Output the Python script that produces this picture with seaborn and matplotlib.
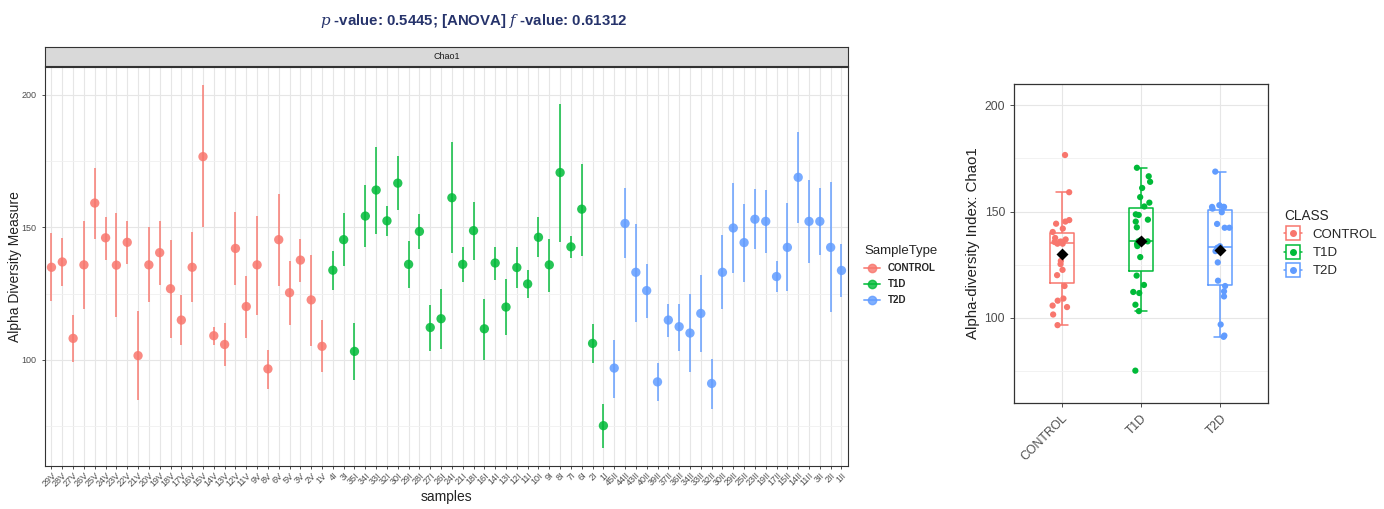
import numpy as np
import pandas as pd
import matplotlib.pyplot as plt
from matplotlib.lines import Line2D
import seaborn as sns

# sample ids as shown on the x axis (left panel order)
control_ids = ['29V', '28V', '27V', '26V', '25V', '24V', '23V', '22V', '21V', '20V', '19V', '18V', '17V',
               '16V', '15V', '14V', '13V', '12V', '11V', '9V', '8V', '6V', '5V', '3V', '2V', '1V']
t1d_ids = ['4I', '3I', '35I', '34I', '33I', '32I', '30I', '29I', '28I', '27I', '26I', '24I', '21I',
           '18I', '16I', '14I', '13I', '12I', '11I', '10I', '9I', '8I', '7I', '6I', '2I', '1I']
t2d_ids = ['45II', '44II', '43II', '40II', '39II', '37II', '36II', '34II', '33II', '32II', '30II',
           '29II', '25II', '23II', '19II', '17II', '15II', '14II', '11II', '3II', '2II', '1II']

# Chao1 estimate with lower / upper range
control_chao1 = [134.9, 136.9, 108.1, 135.8, 159.1, 146.0, 135.7, 144.3, 101.6, 135.8, 140.4, 126.8, 115.0,
                 134.9, 176.6, 109.1, 105.8, 142.0, 120.1, 135.8, 96.6, 145.3, 125.3, 137.6, 122.6, 105.1]
control_lo = [122.1, 127.7, 99.1, 119.3, 145.7, 137.6, 116.1, 136.0, 84.8, 121.7, 128.2, 108.1, 105.6,
              121.9, 150.1, 105.6, 97.6, 128.1, 108.4, 116.9, 89.2, 128.0, 113.0, 129.3, 105.3, 95.4]
control_hi = [147.8, 146.0, 116.9, 152.3, 172.4, 154.0, 155.3, 152.5, 118.6, 150.1, 152.3, 145.3, 124.3,
              148.2, 203.5, 112.2, 114.0, 155.7, 131.7, 154.4, 103.9, 162.5, 137.3, 145.7, 139.5, 114.9]

t1d_chao1 = [133.8, 145.3, 103.2, 154.2, 164.0, 152.4, 166.6, 136.0, 148.4, 112.2, 115.5, 161.1, 136.0,
             148.7, 111.7, 136.5, 119.9, 134.8, 128.6, 146.2, 135.8, 170.6, 142.6, 156.8, 106.2, 75.2]
t1d_lo = [126.5, 135.2, 92.3, 142.4, 147.6, 146.7, 156.5, 127.1, 141.7, 103.5, 104.1, 140.1, 129.3,
          137.6, 100.1, 130.2, 109.4, 127.1, 123.4, 138.6, 125.5, 144.5, 138.5, 139.3, 98.9, 66.8]
t1d_hi = [141.1, 155.4, 114.0, 165.8, 180.1, 158.1, 176.8, 144.8, 155.0, 120.6, 126.8, 182.0, 142.4,
          159.4, 123.0, 142.6, 130.6, 142.4, 133.7, 153.8, 145.7, 196.6, 146.7, 174.0, 113.4, 83.2]

t2d_chao1 = [96.9, 151.4, 133.0, 126.1, 91.7, 115.0, 112.5, 110.1, 117.5, 91.1, 133.0,
             149.7, 144.2, 153.0, 152.2, 131.4, 142.4, 168.8, 152.2, 152.2, 142.4, 133.7]
t2d_lo = [85.8, 138.3, 114.4, 115.9, 84.6, 108.8, 103.5, 95.4, 103.1, 81.5, 119.0,
          132.9, 129.3, 141.7, 140.4, 125.5, 125.8, 151.7, 136.6, 139.5, 118.0, 123.7]
t2d_hi = [107.6, 164.6, 151.3, 136.0, 98.8, 120.9, 121.1, 124.8, 132.0, 100.4, 147.0,
          166.6, 158.8, 164.3, 164.0, 137.4, 159.1, 185.8, 167.7, 164.6, 167.1, 143.5]

groups = ['CONTROL', 'T1D', 'T2D']
palette = {'CONTROL': '#F8766D', 'T1D': '#00BA38', 'T2D': '#619CFF'}

df = pd.DataFrame({
    'samples': control_ids + t1d_ids + t2d_ids,
    'Chao1': control_chao1 + t1d_chao1 + t2d_chao1,
    'lo': control_lo + t1d_lo + t2d_lo,
    'hi': control_hi + t1d_hi + t2d_hi,
    'SampleType': ['CONTROL'] * len(control_ids) + ['T1D'] * len(t1d_ids) + ['T2D'] * len(t2d_ids),
})
df['pos'] = np.arange(len(df))

sns.set_theme(style='white')
plt.rcParams['font.family'] = ['Liberation Sans', 'DejaVu Sans']
plt.rcParams['mathtext.fontset'] = 'dejavuserif'

fig = plt.figure(figsize=(13.84, 5.09), dpi=100)
ax1 = fig.add_axes([0.0325, 0.0845, 0.5802, 0.7845])
strip = fig.add_axes([0.0325, 0.871, 0.5802, 0.036])
ax2 = fig.add_axes([0.7327, 0.2083, 0.1835, 0.6267])

grid_c = '#e6e6e6'
border_c = '#333333'

# ---- left panel: per-sample Chao1 with range
for g in groups:
    sub = df[df['SampleType'] == g]
    ax1.vlines(sub['pos'], sub['lo'], sub['hi'], color=palette[g], lw=1.4, alpha=0.75, zorder=2)
sns.scatterplot(data=df, x='pos', y='Chao1', hue='SampleType', palette=palette, s=45,
                alpha=0.85, edgecolor='none', ax=ax1, legend=False, zorder=3)
ax1.set_xlim(-0.6, len(df) - 0.4)
ax1.set_ylim(60, 210.5)
ax1.set_xticks(df['pos'])
ax1.set_xticklabels(df['samples'], rotation=45, ha='right', rotation_mode='anchor',
                    fontsize=6.5, color='#4d4d4d')
ax1.set_yticks([100, 150, 200])
ax1.set_yticks([75, 125, 175], minor=True)
ax1.tick_params(axis='y', labelsize=6.5, labelcolor='#4d4d4d', length=2.5, width=0.6, left=True, color='#333333')
ax1.tick_params(axis='x', length=2.5, width=0.6, bottom=True, color='#333333', pad=1)
ax1.grid(True, which='major', color=grid_c, lw=0.8)
ax1.grid(True, which='minor', axis='y', color='#f0f0f0', lw=0.6)
ax1.set_axisbelow(True)
ax1.set_xlabel('samples', fontsize=10, color='#222222', labelpad=1)
ax1.set_ylabel('Alpha Diversity Measure', fontsize=10, color='#222222', labelpad=0)
for s in ax1.spines.values():
    s.set_color(border_c)
    s.set_linewidth(0.8)

# facet strip
strip.set_facecolor('#d9d9d9')
strip.set_xticks([])
strip.set_yticks([])
for s in strip.spines.values():
    s.set_color(border_c)
    s.set_linewidth(0.8)
strip.text(0.5, 0.5, 'Chao1', ha='center', va='center', fontsize=6.5, color='#1a1a1a',
           transform=strip.transAxes)

fig.text(0.3425, 0.958, r'$p$ -value: 0.5445; [ANOVA] $f$ -value: 0.61312', ha='center', va='center',
         fontsize=10.8, fontweight='bold', color='#26336b')

h1 = [Line2D([0], [0], color=palette[g], marker='o', markersize=6, lw=1.4, alpha=0.8) for g in groups]
leg1 = fig.legend(h1, groups, title='SampleType', loc='upper left', bbox_to_anchor=(0.618, 0.535),
                  frameon=False, fontsize=7, title_fontsize=9.5, handlelength=1.6, labelspacing=0.6,
                  alignment='left')
for t in leg1.get_texts():
    t.set_fontweight('bold')

# ---- right panel: boxplot by class
np.random.seed(3)
sns.boxplot(data=df, x='SampleType', y='Chao1', hue='SampleType', palette=palette, order=groups,
            fill=False, width=0.3, linewidth=1.1, showfliers=False, ax=ax2, legend=False)
sns.stripplot(data=df, x='SampleType', y='Chao1', hue='SampleType', palette=palette, order=groups,
              jitter=0.12, size=4.5, ax=ax2, legend=False, zorder=3)
sns.pointplot(data=df, x='SampleType', y='Chao1', order=groups, estimator='mean', errorbar=None,
              markers='D', linestyle='none', color='black', markersize=4.5, ax=ax2, zorder=4)
ax2.set_xlim(-0.6, 2.6)
ax2.set_ylim(60, 210)
ax2.set_yticks([100, 150, 200])
ax2.set_yticks([75, 125, 175], minor=True)
ax2.set_xticks(range(len(groups)))
ax2.set_xticklabels(groups, rotation=45, ha='right', rotation_mode='anchor')
ax2.tick_params(axis='both', labelsize=8.8, labelcolor='#4d4d4d', length=3, width=0.6,
                left=True, bottom=True, color='#333333')
ax2.grid(True, which='major', color=grid_c, lw=0.8)
ax2.grid(True, which='minor', axis='y', color='#f0f0f0', lw=0.6)
ax2.set_axisbelow(True)
ax2.set_xlabel('')
ax2.set_ylabel('Alpha-diversity Index: Chao1', fontsize=10.8, color='#222222', labelpad=3)
for s in ax2.spines.values():
    s.set_color(border_c)
    s.set_linewidth(0.9)

h2 = [(Line2D([0], [0], color=palette[g], marker='s', markersize=10, markerfacecolor='white',
              markeredgewidth=1.1, lw=1.1),
       Line2D([0], [0], color=palette[g], marker='o', markersize=4, lw=0)) for g in groups]
fig.legend(h2, groups, title='CLASS', loc='upper left', bbox_to_anchor=(0.919, 0.613),
           frameon=False, fontsize=9.5, title_fontsize=9.8, handlelength=1.4, labelspacing=0.45,
           alignment='left')

fig.savefig('out.png', dpi=100)
